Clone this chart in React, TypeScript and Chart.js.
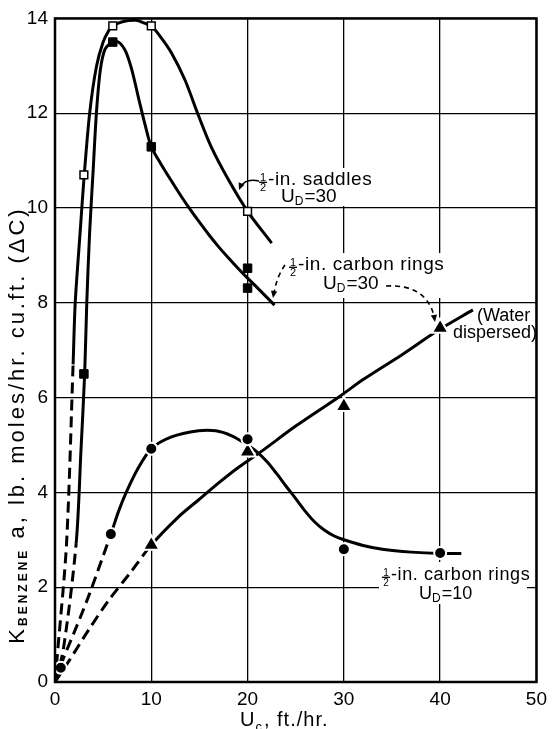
import React, { useEffect, useRef } from "react";
import { Chart, registerables } from "chart.js";

Chart.register(...registerables);

const FONT = "'Liberation Sans', Arial, 'DejaVu Sans', sans-serif";

// Axis ranges / ticks
const xMin = 0;
const xMax = 50;
const xStep = 10;
const yMin = 0;
const yMax = 14;
const yStep = 2;

// Traced curves (hand-drawn smooth curves)
const saddleCurve = [
  [0, 0], [0.3, 0.7], [1.2, 2.93], [1.88, 6.7], [2.1, 8.0], [2.65, 9.6], [3.0, 10.6], [3.6, 12.0],
  [4.3, 12.98], [5.0, 13.5], [5.6, 13.75], [6, 13.84], [7, 13.93], [8.4, 13.96], [9.3, 13.9],
  [10, 13.84], [11, 13.6], [12.1, 13.27], [13.5, 12.7], [14.9, 11.95], [16.2, 11.3], [18, 10.6],
  [20, 9.93], [22.5, 9.26],
];
const saddleDashEnd = 3;

const carbon30Curve = [
  [0, 0], [0.85, 0.67], [2.2, 2.93], [2.7, 4.9], [3.08, 6.5], [3.3, 8.0], [3.6, 9.5], [3.95, 10.75],
  [4.3, 12.0], [4.7, 12.9], [5.2, 13.35], [6.0, 13.5], [6.6, 13.5], [7.35, 13.3], [8.0, 12.9],
  [8.7, 12.3], [9.4, 11.72], [10, 11.29], [11, 10.93], [12, 10.6], [13, 10.28], [14, 9.98],
  [15, 9.7], [16, 9.43], [17, 9.18], [18, 8.95], [19, 8.73], [20, 8.52], [21, 8.32], [22.8, 7.95],
];
const carbon30DashEnd = 2;

const carbon10Curve = [
  [0, 0], [0.8, 0.46], [2.2, 1.15], [3.6, 1.87], [5.8, 3.12], [6.6, 3.6], [7.35, 3.98], [8.6, 4.5],
  [10, 4.92], [12.1, 5.17], [14.9, 5.3], [16.7, 5.3], [18.3, 5.2], [19.6, 5.05], [21, 4.85],
  [22, 4.65], [23, 4.4], [24, 4.13], [25, 3.87], [26, 3.6], [27, 3.37], [28, 3.2], [29, 3.08],
  [30, 3.0], [32, 2.88], [34, 2.8], [37, 2.74], [40, 2.71], [42.2, 2.71],
];
const carbon10DashEnd = 4;

const waterCurve = [
  [0, 0], [1.5, 0.46], [3.5, 1.1], [5.6, 1.73], [7.8, 2.3], [10, 2.89], [12.8, 3.48], [14.9, 3.84],
  [17, 4.2], [19, 4.52], [21.4, 4.86], [25, 5.4], [29.6, 6.03], [32, 6.38], [36, 6.9], [39.8, 7.42],
  [43.4, 7.85],
];
const waterDashEnd = 5;

// Measured points
const saddleX = [3, 6, 10, 20];
const saddleY = [10.7, 13.84, 13.84, 9.93];
const carbon30X = [3, 6, 10, 20, 20];
const carbon30Y = [6.5, 13.5, 11.29, 8.73, 8.31];
const carbon10X = [0.6, 5.8, 10, 20, 30, 40];
const carbon10Y = [0.3, 3.12, 4.92, 5.12, 2.8, 2.72];
const waterX = [10, 20, 30, 40];
const waterY = [2.89, 4.86, 5.82, 7.47];

const toXY = (pts: number[][]) => pts.map(([x, y]) => ({ x, y }));
const zipXY = (xs: number[], ys: number[]) => xs.map((x, i) => ({ x, y: ys[i] }));

const DASH = [11, 6];

function curveDataset(pts: number[][], dashEnd: number) {
  return {
    type: "line" as const,
    data: toXY(pts),
    borderColor: "#000",
    borderWidth: 3,
    pointRadius: 0,
    fill: false,
    tension: 0.3,
    order: 2,
    segment: {
      borderDash: (ctx: any) => (ctx.p1DataIndex <= dashEnd ? DASH : undefined),
    },
  };
}

function drawArrowHead(ctx: CanvasRenderingContext2D, x: number, y: number, ang: number, size = 7) {
  ctx.save();
  ctx.translate(x, y);
  ctx.rotate(ang);
  ctx.beginPath();
  ctx.moveTo(0, 0);
  ctx.lineTo(-size, -size * 0.45);
  ctx.lineTo(-size, size * 0.45);
  ctx.closePath();
  ctx.fill();
  ctx.restore();
}

// draws 1/2 fraction + rest of text; x = left, y = baseline
function drawFrac(ctx: CanvasRenderingContext2D, x: number, y: number, rest: string, size: number) {
  ctx.save();
  ctx.fillStyle = "#000";
  ctx.strokeStyle = "#000";
  ctx.textBaseline = "alphabetic";
  ctx.textAlign = "center";
  ctx.font = `${Math.round(size * 0.58)}px ${FONT}`;
  const cx = x + 4;
  ctx.fillText("1", cx, y - 4);
  ctx.fillText("2", cx, y + 5.5);
  ctx.lineWidth = 1.3;
  ctx.beginPath();
  ctx.moveTo(x, y - 2.7);
  ctx.lineTo(x + 8, y - 2.7);
  ctx.stroke();
  ctx.textAlign = "left";
  ctx.font = `${size}px ${FONT}`;
  (ctx as any).letterSpacing = "0.6px";
  ctx.fillText(rest, x + 9, y);
  ctx.restore();
}

// U_sub = value ; x = left, y = baseline
function drawUsub(ctx: CanvasRenderingContext2D, x: number, y: number, sub: string, rest: string, size: number) {
  ctx.save();
  ctx.fillStyle = "#000";
  ctx.textAlign = "left";
  ctx.textBaseline = "alphabetic";
  ctx.font = `${size}px ${FONT}`;
  ctx.fillText("U", x, y);
  let cx = x + ctx.measureText("U").width;
  ctx.font = `${Math.round(size * 0.65)}px ${FONT}`;
  ctx.fillText(sub, cx, y + 3);
  cx += ctx.measureText(sub).width + 1;
  ctx.font = `${size}px ${FONT}`;
  ctx.fillText(rest, cx, y);
  ctx.restore();
}

const decorPlugin = {
  id: "decor",
  beforeDatasetsDraw(chart: any) {
    const ctx: CanvasRenderingContext2D = chart.ctx;
    ctx.save();
    ctx.fillStyle = "#fff";
    // label backgrounds hiding grid lines
    ctx.fillRect(257, 168, 118, 38);
    ctx.fillRect(287, 253, 160, 45);
    ctx.fillRect(451, 304, 84, 38);
    ctx.fillRect(379, 562, 148, 42);
    ctx.restore();
  },
  afterDatasetsDraw(chart: any) {
    const ctx: CanvasRenderingContext2D = chart.ctx;
    const a = chart.chartArea;
    ctx.save();
    // frame
    ctx.strokeStyle = "#000";
    ctx.lineWidth = 2.5;
    ctx.strokeRect(a.left, a.top, a.right - a.left, a.bottom - a.top);

    // annotations
    ctx.fillStyle = "#000";
    drawFrac(ctx, 259, 185, "-in. saddles", 19);
    drawUsub(ctx, 281, 202, "D", "=30", 19);
    drawFrac(ctx, 289, 270, "-in. carbon rings", 19);
    drawUsub(ctx, 323, 289, "D", "=30", 19);
    ctx.font = `18px ${FONT}`;
    ctx.textAlign = "left";
    ctx.fillText("(Water", 477, 321);
    ctx.fillText("dispersed)", 453, 338);
    drawFrac(ctx, 382, 580, "-in. carbon rings", 18);
    drawUsub(ctx, 419, 599, "D", "=10", 18);

    // leaders
    ctx.strokeStyle = "#000";
    ctx.lineWidth = 1.6;
    ctx.beginPath();
    ctx.moveTo(259, 181);
    ctx.quadraticCurveTo(245, 178, 241, 187);
    ctx.stroke();
    drawArrowHead(ctx, 239, 190, Math.PI * 0.62, 7);

    ctx.setLineDash([5, 4]);
    ctx.beginPath();
    ctx.moveTo(285, 265);
    ctx.quadraticCurveTo(277, 276, 274, 293);
    ctx.stroke();
    ctx.beginPath();
    ctx.moveTo(386, 286);
    ctx.quadraticCurveTo(426, 284, 434, 316);
    ctx.stroke();
    ctx.setLineDash([]);
    drawArrowHead(ctx, 273, 298, Math.PI * 0.55, 7);
    drawArrowHead(ctx, 435, 322, Math.PI * 0.45, 7);

    // axis titles
    // x title
    ctx.font = `20px ${FONT}`;
    (ctx as any).letterSpacing = "1px";
    ctx.textBaseline = "alphabetic";
    ctx.fillText("U", 240, 726);
    let cx = 240 + ctx.measureText("U").width;
    ctx.font = `13px ${FONT}`;
    ctx.fillText("c", cx, 731);
    cx += ctx.measureText("c").width + 1;
    ctx.font = `20px ${FONT}`;
    ctx.fillText(", ft./hr.", cx, 726);

    // y title
    ctx.save();
    ctx.translate(17, 425);
    ctx.rotate(-Math.PI / 2);
    (ctx as any).letterSpacing = "3px";
    const p1 = "K";
    const p2 = "BENZENE";
    const p3 = " a, lb. moles/hr. cu.ft. (\u0394C)";
    ctx.font = `22px ${FONT}`;
    const w1 = ctx.measureText(p1).width;
    const w3 = ctx.measureText(p3).width;
    ctx.font = `bold 12px ${FONT}`;
    const w2 = ctx.measureText(p2).width;
    const total = w1 + w2 + w3;
    let tx = -total / 2;
    ctx.font = `22px ${FONT}`;
    ctx.fillText(p1, tx, 7);
    tx += w1;
    ctx.font = `bold 12px ${FONT}`;
    ctx.fillText(p2, tx, 10);
    tx += w2;
    ctx.font = `22px ${FONT}`;
    ctx.fillText(p3, tx, 7);
    ctx.restore();

    ctx.restore();
  },
};

export default function App() {
  const ref = useRef<HTMLCanvasElement | null>(null);

  useEffect(() => {
    if (!ref.current) return;
    const chart = new Chart(ref.current, {
      type: "line",
      data: {
        datasets: [
          {
            type: "scatter" as const,
            data: zipXY(saddleX, saddleY),
            pointStyle: "rect",
            pointRadius: 5.5,
            pointBackgroundColor: "#fff",
            pointBorderColor: "#000",
            pointBorderWidth: 1.5,
            showLine: false,
            order: 0,
          },
          {
            type: "scatter" as const,
            data: zipXY(carbon30X, carbon30Y),
            pointStyle: "rect",
            pointRadius: 6,
            pointBackgroundColor: "#000",
            pointBorderColor: "#000",
            pointBorderWidth: 1,
            showLine: false,
            order: 0,
          },
          {
            type: "scatter" as const,
            data: zipXY(carbon10X, carbon10Y),
            pointStyle: "circle",
            pointRadius: 6,
            pointBackgroundColor: "#000",
            pointBorderColor: "#fff",
            pointBorderWidth: 2,
            showLine: false,
            order: 0,
          },
          {
            type: "scatter" as const,
            data: zipXY(waterX, waterY),
            pointStyle: "triangle",
            pointRadius: 9.5,
            pointBackgroundColor: "#000",
            pointBorderColor: "#fff",
            pointBorderWidth: 2,
            showLine: false,
            order: 0,
          },
          curveDataset(saddleCurve, saddleDashEnd),
          curveDataset(carbon30Curve, carbon30DashEnd),
          curveDataset(carbon10Curve, carbon10DashEnd),
          curveDataset(waterCurve, waterDashEnd),
        ] as any,
      },
      options: {
        responsive: false,
        animation: false,
        devicePixelRatio: 1,
        layout: { padding: { top: 18, right: 11, left: 0, bottom: 0 } },
        plugins: { legend: { display: false }, tooltip: { enabled: false } },
        scales: {
          x: {
            type: "linear",
            min: xMin,
            max: xMax,
            afterFit: (s: any) => {
              s.height = 47;
            },
            ticks: {
              stepSize: xStep,
              color: "#000",
              padding: 6,
              font: { family: FONT, size: 19 },
              maxRotation: 0,
            },
            grid: { color: "#000", lineWidth: 1.3, drawTicks: false },
            border: { display: false },
          },
          y: {
            type: "linear",
            min: yMin,
            max: yMax,
            afterFit: (s: any) => {
              s.width = 55;
            },
            ticks: {
              stepSize: yStep,
              color: "#000",
              padding: 7,
              font: { family: FONT, size: 19 },
            },
            grid: { color: "#000", lineWidth: 1.3, drawTicks: false },
            border: { display: false },
          },
        },
      },
      plugins: [decorPlugin],
    });
    return () => chart.destroy();
  }, []);

  return (
    <div style={{ position: "absolute", left: 0, top: 0, width: 553, height: 729, background: "#fff" }}>
      <canvas ref={ref} width={553} height={729} />
    </div>
  );
}
